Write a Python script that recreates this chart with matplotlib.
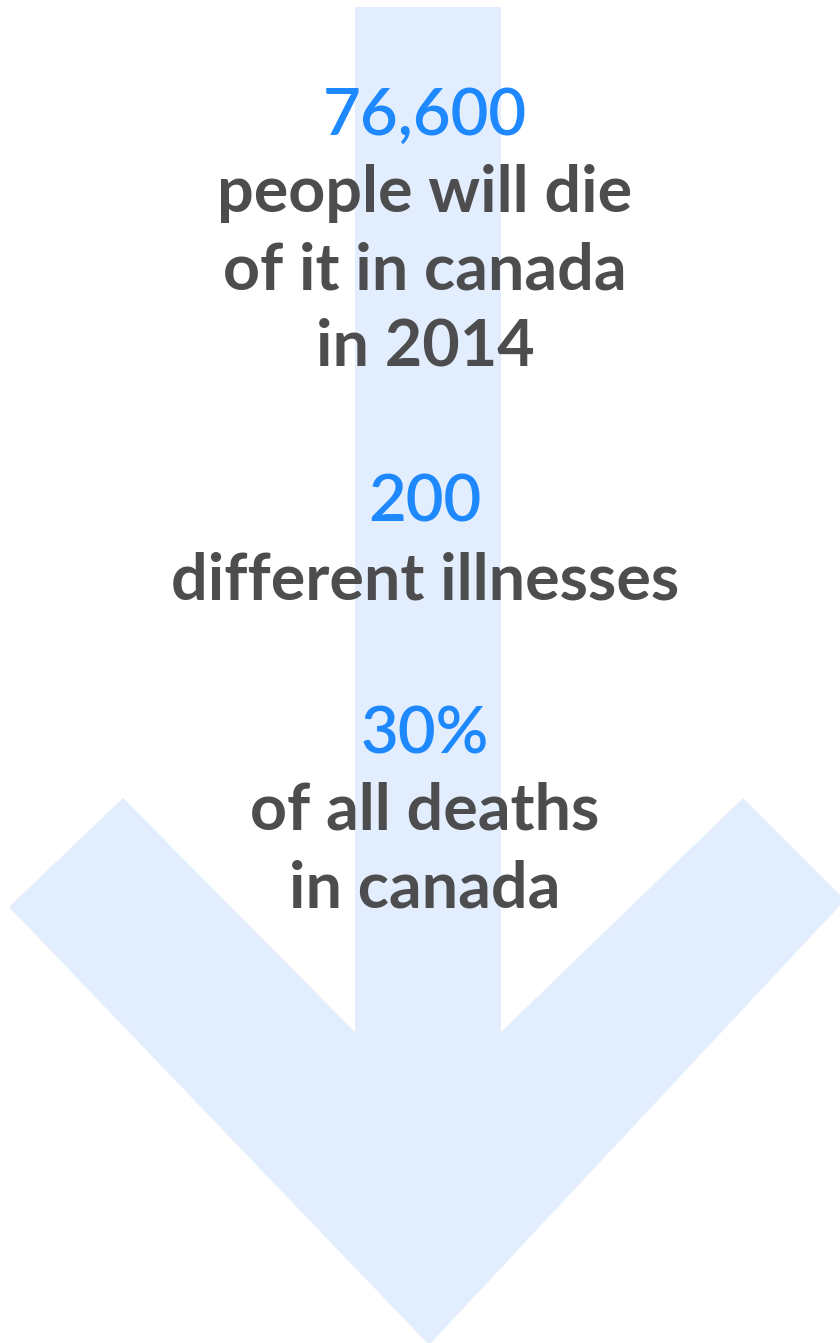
import matplotlib.pyplot as plt
from matplotlib.patches import Polygon

# Textos del gráfico
numbers = ['76,600', '200', '30%']
captions = [['people will die', 'of it in canada', 'in 2014'],
            ['different illnesses'],
            ['of all deaths', 'in canada']]

blue = '#1E88FF'
gray = '#4D4D4F'
arrow_color = '#E2EEFD'

fig = plt.figure(figsize=(8.4, 13.43), dpi=100)
ax = fig.add_axes([0, 0, 1, 1])
ax.set_xlim(0, 840)
ax.set_ylim(1343, 0)
ax.axis('off')

# Flecha de fondo
arrow = [(355, 7), (501, 7), (501, 1032), (743, 798), (845, 900),
         (429, 1345), (9, 907), (123, 798), (355, 1032)]
ax.add_patch(Polygon(arrow, closed=True, color=arrow_color, lw=0))

# Bloques de texto
number_base = [135, 522, 753]
line_step = 77
cx = 425
for num, lines, y0 in zip(numbers, captions, number_base):
    ax.text(cx, y0, num, color=blue, fontsize=47, family='Lato',
            weight='semibold', ha='center', va='baseline')
    for i, line in enumerate(lines):
        ax.text(cx, y0 + line_step * (i + 1), line, color=gray, fontsize=46.5,
                family='Lato', weight='bold', ha='center', va='baseline')

fig.savefig('out.png', dpi=100)
